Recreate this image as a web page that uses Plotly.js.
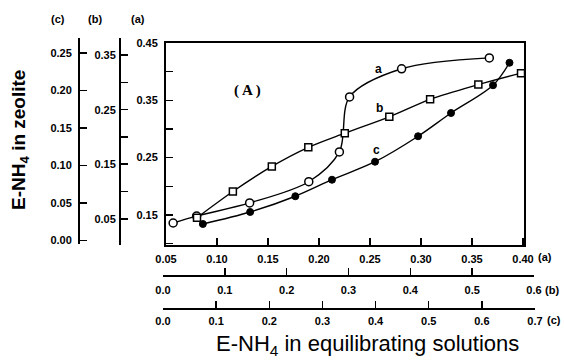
<!DOCTYPE html>
<html><head><meta charset="utf-8">
<script src="https://cdn.plot.ly/plotly-3.0.1.min.js"></script>
<style>html,body{margin:0;padding:0;background:#fff}#chart{width:564px;height:361px}</style>
</head><body><div id="chart"></div>
<script>
// Series (a): open circles, plotted on scale (a)
const aX = [0.057, 0.080, 0.132, 0.190, 0.220, 0.230, 0.281, 0.367];
const aY = [0.136, 0.148, 0.171, 0.208, 0.260, 0.356, 0.405, 0.424];
// Series (b): open squares, plotted on scale (b)
const bX = [0.055, 0.113, 0.176, 0.235, 0.294, 0.366, 0.432, 0.510, 0.579];
const bY = [0.052, 0.100, 0.146, 0.181, 0.207, 0.237, 0.269, 0.296, 0.317];
// Series (c): filled circles, plotted on scale (c)
const cX = [0.075, 0.164, 0.249, 0.318, 0.399, 0.480, 0.542, 0.621, 0.652];
const cY = [0.022, 0.038, 0.059, 0.081, 0.105, 0.139, 0.170, 0.207, 0.237];

// tick values / labels
const axTicks = [0.05, 0.10, 0.15, 0.20, 0.25, 0.30, 0.35, 0.40];
const axLabels = ["0.05", "0.10", "0.15", "0.20", "0.25", "0.30", "0.35", "0.40"];
const bxTicks = [0, 0.1, 0.2, 0.3, 0.4, 0.5, 0.6];
const bxLabels = ["0.0", "0.1", "0.2", "0.3", "0.4", "0.5", "0.6"];
const cxTicks = [0, 0.1, 0.2, 0.3, 0.4, 0.5, 0.6, 0.7];
const cxLabels = ["0.0", "0.1", "0.2", "0.3", "0.4", "0.5", "0.6", "0.7"];
const ayTicks = [0.15, 0.25, 0.35, 0.45];
const ayLabels = ["0.15", "0.25", "0.35", "0.45"];
const byTicks = [0.05, 0.15, 0.25, 0.35];
const byLabels = ["0.05", "0.15", "0.25", "0.35"];
const cyTicks = [0.00, 0.05, 0.10, 0.15, 0.20, 0.25];
const cyLabels = ["0.00", "0.05", "0.10", "0.15", "0.20", "0.25"];

const W = 564, H = 361;
const px = v => v / W;
const py = v => 1 - v / H;
const FONT = {family: "Liberation Sans, Arial, sans-serif", size: 11, color: "#000", weight: "bold"};

const lineStyle = {color: "#000", width: 1.4, shape: "spline", smoothing: 0.9};
const traces = [
  {x: aX, y: aY, xaxis: "x", yaxis: "y", mode: "lines+markers", line: lineStyle,
   marker: {symbol: "circle", size: 8, color: "#fff", line: {color: "#000", width: 1.5}}, cliponaxis: false},
  {x: bX, y: bY, xaxis: "x2", yaxis: "y2", mode: "lines+markers", line: lineStyle,
   marker: {symbol: "square", size: 7, color: "#fff", line: {color: "#000", width: 1.5}}, cliponaxis: false},
  {x: cX, y: cY, xaxis: "x3", yaxis: "y3", mode: "lines+markers", line: lineStyle,
   marker: {symbol: "circle", size: 7, color: "#000", line: {color: "#000", width: 1}}, cliponaxis: false}
];

const common = {showgrid: false, zeroline: false, showline: true, linecolor: "#000", linewidth: 2,
  ticks: "inside", ticklen: 7, tickwidth: 1.5, tickcolor: "#000", tickfont: FONT, tickmode: "array", fixedrange: true};

function note(text, x, y, font, extra) {
  return Object.assign({text: text, xref: "paper", yref: "paper", x: px(x), y: py(y), showarrow: false,
    xanchor: "center", yanchor: "middle", font: font || FONT}, extra || {});
}
const small = {family: "Liberation Sans, Arial, sans-serif", size: 12, weight: "bold", color: "#000"};

const layout = {
  width: W, height: H, margin: {l: 0, r: 0, t: 0, b: 0},
  paper_bgcolor: "#fff", plot_bgcolor: "rgba(0,0,0,0)", showlegend: false,
  xaxis: Object.assign({}, common, {domain: [px(166), px(524)], range: [0.05, 0.401], anchor: "y",
    tickvals: axTicks, ticktext: axLabels, mirror: true, ticklabelstandoff: 3}),
  yaxis: Object.assign({}, common, {domain: [py(245), py(43)], range: [0.0976, 0.45], anchor: "x",
    tickvals: ayTicks, ticktext: ayLabels, mirror: true, ticklabelstandoff: 4,
    minor: {tickvals: [0.10, 0.20, 0.30, 0.40], ticks: "inside", ticklen: 7, tickcolor: "#000", tickwidth: 1.5}}),
  xaxis2: Object.assign({}, common, {domain: [px(163), px(534)], range: [0, 0.6], anchor: "free", position: py(275),
    tickvals: bxTicks, ticktext: bxLabels, linewidth: 1.6, ticklabelstandoff: 4}),
  yaxis2: Object.assign({}, common, {domain: [py(245), py(38)], range: [0.0019, 0.3815], anchor: "free", position: px(119),
    tickvals: byTicks, ticktext: byLabels, linewidth: 1.6, ticklabelstandoff: 1,
    minor: {tickvals: [0.10, 0.20, 0.30], ticks: "inside", ticklen: 7, tickcolor: "#000", tickwidth: 1.5}}),
  xaxis3: Object.assign({}, common, {domain: [px(163), px(535)], range: [0, 0.7], anchor: "free", position: py(308),
    tickvals: cxTicks, ticktext: cxLabels, linewidth: 1.6, ticklabelstandoff: 2}),
  yaxis3: Object.assign({}, common, {domain: [py(244), py(38)], range: [-0.0047, 0.27], anchor: "free", position: px(78),
    tickvals: cyTicks, ticktext: cyLabels, linewidth: 1.6, ticklabelstandoff: 4}),
  annotations: [
    note("(c)", 58, 19), note("(b)", 95, 19), note("(a)", 138, 19),
    note("(a)", 545, 257), note("(b)", 552, 290), note("(c)", 554, 320),
    note("( A )", 247, 90, {family: "Liberation Serif, serif", size: 15, color: "#000", weight: "bold"}),
    note("a", 378, 69, small), note("b", 379, 108, small), note("c", 376, 150, small),
    note("E-NH<sub>4</sub> in zeolite", 20, 140, {family: "Liberation Sans, Arial, sans-serif", size: 19, weight: "bold", color: "#000"}, {textangle: -90}),
    note("E-NH<sub>4</sub> in equilibrating solutions", 367, 345, {family: "Liberation Sans, Arial, sans-serif", size: 22, color: "#000"})
  ]
};
Plotly.newPlot("chart", traces, layout, {staticPlot: true, displayModeBar: false});
</script></body></html>
